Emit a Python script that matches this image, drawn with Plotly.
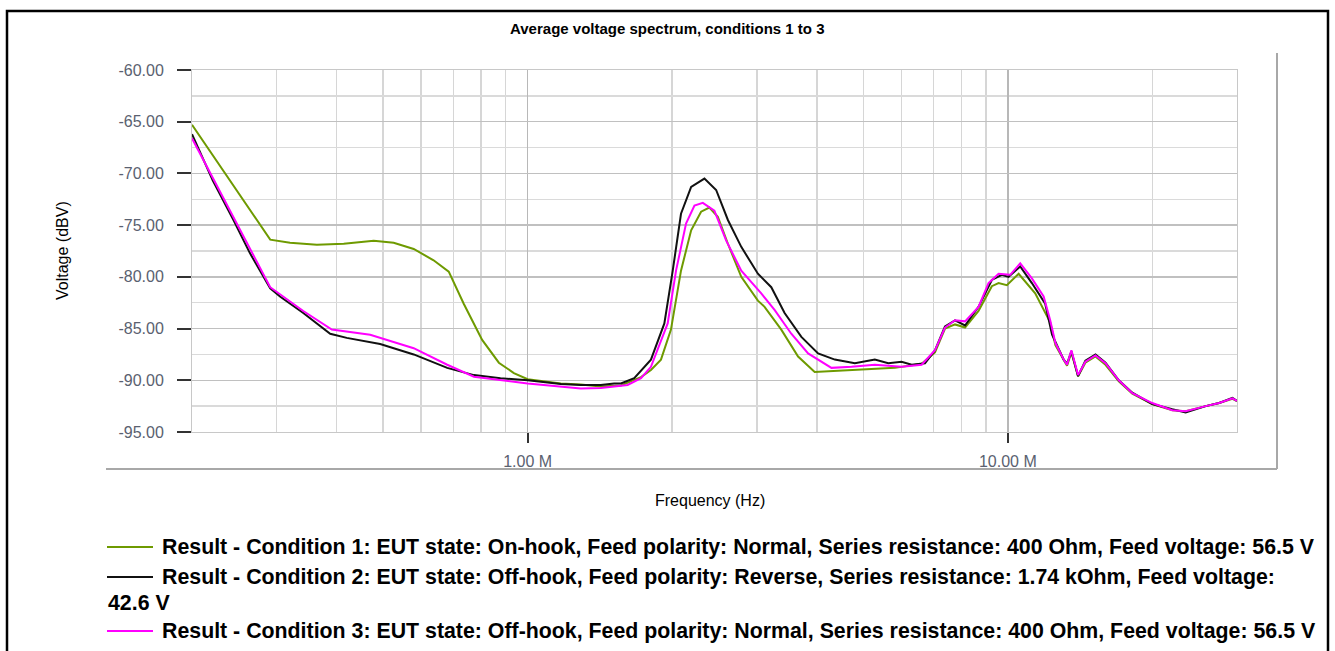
import numpy as np
import plotly.graph_objects as go

# ---------------- data (frequency in MHz, level in dBV) ----------------
c1_freq_mhz = [0.200, 0.291, 0.320, 0.364, 0.414, 0.478, 0.526, 0.579, 0.637, 0.685,
               0.736, 0.804, 0.871, 0.936, 1.000, 1.172, 1.290, 1.420, 1.564, 1.722,
               1.806, 1.895, 1.988, 2.086, 2.190, 2.297, 2.390, 2.489, 2.612, 2.785,
               3.016, 3.114, 3.374, 3.657, 3.960, 4.361, 5.120, 5.819, 6.614, 7.050,
               7.397, 7.762, 8.144, 8.687, 9.260, 9.563, 9.953, 10.53, 11.40, 12.25,
               12.56, 13.07, 13.28, 13.56, 14.00, 14.50, 15.22, 15.97, 17.02, 18.16,
               19.98, 22.00, 23.45, 25.82, 27.54, 29.35, 30.00]
c1_dbv = [-65.3, -76.4, -76.7, -76.9, -76.8, -76.5, -76.7, -77.3, -78.4, -79.5,
          -82.6, -86.1, -88.3, -89.3, -89.9, -90.3, -90.4, -90.6, -90.5, -89.7,
          -89.0, -88.0, -85.1, -79.4, -75.5, -73.7, -73.3, -74.2, -76.8, -80.0,
          -82.3, -82.9, -85.1, -87.7, -89.2, -89.1, -89.0, -88.8, -88.4, -87.3,
          -85.0, -84.6, -84.9, -83.3, -80.9, -80.6, -80.8, -79.7, -81.6, -84.4,
          -86.6, -88.1, -88.6, -87.3, -89.6, -88.3, -87.7, -88.5, -90.1, -91.3,
          -92.3, -92.9, -93.0, -92.5, -92.2, -91.8, -92.0]

c2_freq_mhz = [0.200, 0.221, 0.244, 0.264, 0.291, 0.305, 0.341, 0.388, 0.420, 0.493,
               0.579, 0.680, 0.773, 0.878, 1.000, 1.172, 1.290, 1.420, 1.514, 1.564,
               1.667, 1.806, 1.926, 2.005, 2.086, 2.190, 2.334, 2.469, 2.612, 2.785,
               3.016, 3.216, 3.428, 3.715, 4.025, 4.361, 4.801, 5.284, 5.636, 6.006,
               6.304, 6.720, 7.050, 7.397, 7.762, 8.144, 8.687, 9.260, 9.716, 10.03,
               10.61, 11.22, 11.96, 12.36, 13.07, 13.28, 13.56, 14.00, 14.50, 15.22,
               15.97, 17.02, 18.16, 19.98, 22.00, 23.45, 25.82, 27.54, 29.35, 30.00]
c2_dbv = [-66.2, -70.7, -74.5, -77.7, -81.1, -81.9, -83.5, -85.5, -85.9, -86.5,
          -87.5, -88.8, -89.5, -89.8, -90.0, -90.35, -90.45, -90.45, -90.3, -90.3,
          -89.8, -88.0, -84.5, -79.4, -73.9, -71.3, -70.5, -71.6, -74.5, -77.1,
          -79.7, -81.0, -83.5, -85.8, -87.4, -88.0, -88.35, -88.0, -88.35, -88.2,
          -88.5, -88.35, -87.1, -84.8, -84.2, -84.7, -82.9, -80.3, -79.8, -80.0,
          -79.0, -80.6, -82.6, -85.6, -88.0, -88.4, -87.2, -89.6, -88.1, -87.5,
          -88.3, -90.0, -91.2, -92.3, -92.8, -93.1, -92.5, -92.2, -91.7, -92.0]

c3_freq_mhz = [0.200, 0.291, 0.341, 0.391, 0.470, 0.579, 0.680, 0.773, 1.000, 1.290,
               1.420, 1.514, 1.615, 1.722, 1.806, 1.957, 2.037, 2.137, 2.225, 2.316,
               2.448, 2.591, 2.785, 3.065, 3.267, 3.540, 3.837, 4.292, 4.725, 5.284,
               6.006, 6.614, 7.050, 7.397, 7.762, 8.144, 8.687, 9.114, 9.563, 10.11,
               10.61, 11.22, 11.87, 12.25, 12.56, 13.07, 13.28, 13.56, 14.00, 14.50,
               15.22, 15.97, 17.02, 18.16, 19.98, 22.00, 23.45, 25.82, 27.54, 29.35,
               30.00]
c3_dbv = [-66.6, -81.0, -83.3, -85.1, -85.6, -86.9, -88.5, -89.65, -90.3, -90.8,
          -90.75, -90.6, -90.45, -89.8, -88.7, -84.5, -79.4, -74.85, -73.1, -72.85,
          -73.6, -76.5, -79.4, -81.6, -83.2, -85.5, -87.4, -88.8, -88.7, -88.5,
          -88.7, -88.5, -87.1, -84.9, -84.2, -84.3, -82.9, -80.6, -79.7, -79.8,
          -78.7, -80.15, -81.9, -84.2, -86.4, -88.0, -88.5, -87.1, -89.5, -88.2,
          -87.6, -88.35, -90.0, -91.25, -92.2, -92.9, -93.0, -92.5, -92.2, -91.75,
          -92.0]

series_names = [
    "Result - Condition 1: EUT state: On-hook, Feed polarity: Normal, Series resistance: 400 Ohm, Feed voltage: 56.5 V",
    "Result - Condition 2: EUT state: Off-hook, Feed polarity: Reverse, Series resistance: 1.74 kOhm, Feed voltage:",
    "Result - Condition 3: EUT state: Off-hook, Feed polarity: Normal, Series resistance: 400 Ohm, Feed voltage: 56.5 V",
]
name2_wrap = "42.6 V"
series_colors = ["#6e9a00", "#111111", "#ff00ff"]

y_tick_vals = [-60, -65, -70, -75, -80, -85, -90, -95]
y_tick_text = ["-60.00", "-65.00", "-70.00", "-75.00", "-80.00", "-85.00", "-90.00", "-95.00"]
x_tick_vals_hz = [1e6, 1e7]
x_tick_text = ["1.00 M", "10.00 M"]
x_grid_vals_hz = [m * 10 ** e for e in (5, 6, 7) for m in range(1, 10)
                  if 2e5 <= m * 10 ** e <= 3e7]

title_text = "Average voltage spectrum, conditions 1 to 3"
x_title = "Frequency (Hz)"
y_title = "Voltage (dBV)"

# ---------------- layout geometry ----------------
W, H = 1335, 651
L, R, T, B = 192, 98, 70, 219
PW, PH = W - L - R, H - T - B


def px(x):
    return (x - L) / PW


def py(y):
    return (H - B - y) / PH


FONT = "Liberation Sans, Arial, sans-serif"

fig = go.Figure()
for fr, vals, col in [(c1_freq_mhz, c1_dbv, series_colors[0]),
                      (c2_freq_mhz, c2_dbv, series_colors[1]),
                      (c3_freq_mhz, c3_dbv, series_colors[2])]:
    fig.add_trace(go.Scatter(x=np.array(fr) * 1e6, y=vals, mode="lines",
                             line=dict(color=col, width=2), showlegend=False,
                             hoverinfo="skip"))

fig.update_layout(
    width=W, height=H,
    margin=dict(l=L, r=R, t=T, b=B, pad=0),
    paper_bgcolor="white", plot_bgcolor="white",
    font=dict(family=FONT, color="#000"),
    showlegend=False,
)

fig.update_xaxes(
    type="log", range=[np.log10(2e5), np.log10(3e7)],
    tickmode="array", tickvals=x_tick_vals_hz, ticktext=x_tick_text,
    ticks="outside", ticklen=10, tickwidth=2, tickcolor="#333",
    tickfont=dict(size=16, color="#5a6170", family=FONT),
    showgrid=True, gridcolor="#b8b8b8", gridwidth=1.5,
    minor=dict(tickmode="array", tickvals=x_grid_vals_hz, showgrid=True,
               gridcolor="#d6d6d6", gridwidth=1.5, ticks=""),
    showline=True, linecolor="#c8c8c8", linewidth=1, mirror=True,
    zeroline=False, ticklabelstandoff=5,
)
fig.update_yaxes(
    range=[-95, -60], tickmode="array", tickvals=y_tick_vals, ticktext=y_tick_text,
    ticks="outside", ticklen=14, tickwidth=2, tickcolor="#333",
    tickfont=dict(size=16, color="#5a6170", family=FONT),
    showgrid=True, gridcolor="#c0c0c0", gridwidth=1.5,
    minor=dict(tick0=-60, dtick=2.5, showgrid=True, gridcolor="#dadada",
               gridwidth=1.5, ticks=""),
    showline=True, linecolor="#c8c8c8", linewidth=1, mirror=True,
    zeroline=False, ticklabelstandoff=10,
)

shapes = [
    # faded band near the bottom of the plot area
    dict(type="rect", xref="paper", yref="y", x0=0, x1=1, y0=-94.6, y1=-91.7,
         fillcolor="rgba(255,255,255,0.72)", line=dict(width=0), layer="between"),
    # outer black border
    dict(type="rect", xref="paper", yref="paper", x0=px(7), x1=px(1328),
         y0=py(720), y1=py(11), line=dict(color="#000", width=2.5)),
    # grey panel frame (right & bottom)
    dict(type="line", xref="paper", yref="paper", x0=px(106), x1=px(1277),
         y0=py(469), y1=py(469), line=dict(color="#a8a8a8", width=2)),
    dict(type="line", xref="paper", yref="paper", x0=px(1277), x1=px(1277),
         y0=py(469), y1=py(53), line=dict(color="#a8a8a8", width=2)),
]
legend_rows_y = [547, 577, 631]
for ry, col in zip(legend_rows_y, series_colors):
    shapes.append(dict(type="line", xref="paper", yref="paper", x0=px(107), x1=px(153),
                       y0=py(ry), y1=py(ry), line=dict(color=col, width=2)))
fig.update_layout(shapes=shapes)

ann = [
    dict(text="<b>" + title_text + "</b>", x=px(667), y=py(29), xref="paper", yref="paper",
         xanchor="center", yanchor="middle", showarrow=False,
         font=dict(size=15, family=FONT, color="#000")),
    dict(text=x_title, x=px(710), y=py(500), xref="paper", yref="paper",
         xanchor="center", yanchor="middle", showarrow=False,
         font=dict(size=16, family=FONT, color="#000")),
    dict(text=y_title, x=px(62), y=py(251), xref="paper", yref="paper", textangle=-90,
         xanchor="center", yanchor="middle", showarrow=False,
         font=dict(size=16, family=FONT, color="#000")),
]
for ry, name in zip(legend_rows_y, series_names):
    ann.append(dict(text="<b>" + name + "</b>", x=px(160), y=py(ry), xref="paper", yref="paper",
                    xanchor="left", yanchor="middle", showarrow=False,
                    font=dict(size=21.33, family=FONT, color="#000")))
ann.append(dict(text="<b>" + name2_wrap + "</b>", x=px(106), y=py(603), xref="paper", yref="paper",
                xanchor="left", yanchor="middle", showarrow=False,
                font=dict(size=21.33, family=FONT, color="#000")))
fig.update_layout(annotations=ann)

fig.write_html("out.html", config={"displayModeBar": False, "staticPlot": True},
               post_script="document.body.style.margin='0';document.body.style.overflow='hidden';")
